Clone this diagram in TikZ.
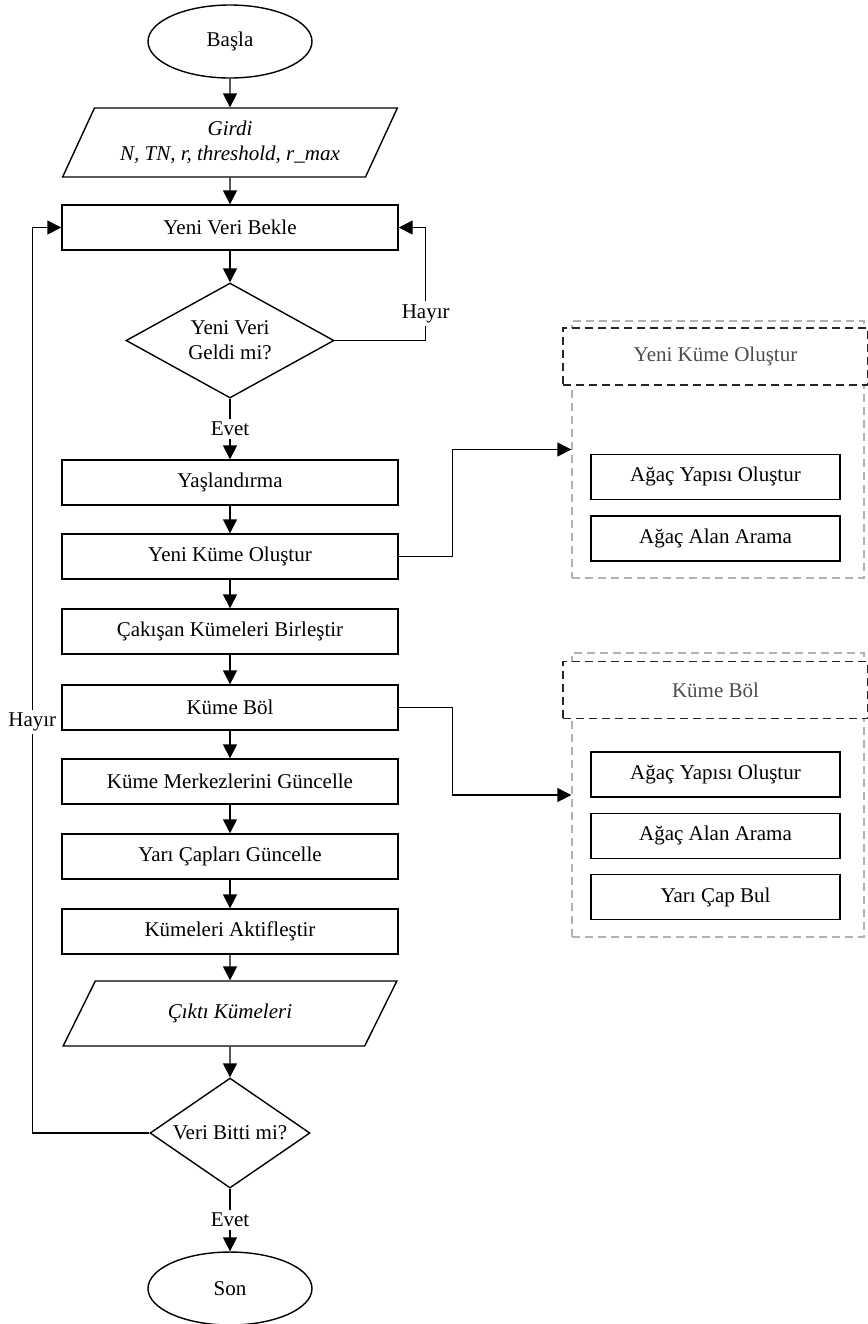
\documentclass[tikz,border=0pt]{standalone}
\usepackage{fontspec}
\setmainfont{Liberation Serif}
\usetikzlibrary{positioning, arrows.meta, shapes.geometric}

\begin{document}
\begin{tikzpicture}[node distance=15pt, >={Triangle[length=7pt,width=7pt]}, line width=0.7pt,
  font=\fontsize{10.5}{12.5}\selectfont,
  startstop/.style={draw, ellipse, minimum width=82pt, minimum height=36.5pt},
  io/.style={draw, trapezium, trapezium left angle=64, trapezium right angle=116, trapezium stretches=true,
    minimum width=167.5pt, align=center, font=\fontsize{10.5}{12.5}\selectfont\itshape},
  process/.style={draw, rectangle, minimum width=168pt, minimum height=22.5pt},
  decision/.style={draw, diamond, align=center, inner sep=0pt},
  groupbox/.style={draw=black!30, dash pattern=on 4pt off 2.5pt, minimum width=146pt},
  grouphead/.style={draw=black!85, dash pattern=on 4pt off 2.5pt, fill=white, text=black!70,
    minimum width=152.5pt, minimum height=28.5pt},
  subproc/.style={draw, rectangle, minimum width=124.5pt, minimum height=22.5pt},
  lbl/.style={fill=white, inner sep=1.5pt}]
\useasboundingbox (0,0) rectangle (434pt,-662pt);

% ana akis
\node[startstop] (start) at (115pt,-20.75pt) {Başla};
\node[io, minimum height=34.5pt, below=14.3pt of start] (in) {Girdi\\N, TN, r, threshold, r\_max};
\node[process, below=13.3pt of in] (wait) {Yeni Veri Bekle};
\node[decision, aspect=1.8, minimum width=104pt, minimum height=57.5pt, below=15.8pt of wait] (newq) {Yeni Veri\\Geldi mi?};
\node[process, below=30.3pt of newq] (age) {Yaşlandırma};
\node[process, below=13.8pt of age] (newcl) {Yeni Küme Oluştur};
\node[process, below=14.3pt of newcl] (merge) {Çakışan Kümeleri Birleştir};
\node[process, below=14.8pt of merge] (split) {Küme Böl};
\node[process, below=13.8pt of split] (upc) {Küme Merkezlerini Güncelle};
\node[process, below=14.3pt of upc] (upr) {Yarı Çapları Güncelle};
\node[process, below=14.3pt of upr] (act) {Kümeleri Aktifleştir};
\node[io, trapezium left angle=63, trapezium right angle=117, minimum height=32.5pt, below=12.8pt of act] (out) {Çıktı Kümeleri};
\node[decision, aspect=1.45, minimum width=80pt, minimum height=55pt, below=15.3pt of out] (endq) {Veri Bitti mi?};
\node[startstop, below=31.3pt of endq] (stop) {Son};

\coordinate[right=13.5pt of wait] (wr);
\coordinate[left=14.5pt of wait] (wl);

% alt surecler
\node[groupbox, minimum height=128.5pt] (grp1) at (359pt,-224.75pt) {};
\node[grouphead] (head1) at (357.75pt,-178.25pt) {Yeni Küme Oluştur};
\node[subproc, below=34pt of head1] (tree1) {Ağaç Yapısı Oluştur};
\node[subproc, below=7.5pt of tree1] (search1) {Ağaç Alan Arama};

\node[groupbox, minimum height=142pt] (grp2) at (359pt,-397.5pt) {};
\node[grouphead] (head2) at (357.75pt,-345pt) {Küme Böl};
\node[subproc, below=16pt of head2] (tree2) {Ağaç Yapısı Oluştur};
\node[subproc, below=7.5pt of tree2] (search2) {Ağaç Alan Arama};
\node[subproc, below=7.5pt of search2] (rad2) {Yarı Çap Bul};

\draw[->] (start) -- (in);
\draw[->] (in) -- (wait);
\draw[->] (wait) -- (newq);
\draw[->] (newq) -- node[lbl] {Evet} (age);
\draw[->] (age) -- (newcl);
\draw[->] (newcl) -- (merge);
\draw[->] (merge) -- (split);
\draw[->] (split) -- (upc);
\draw[->] (upc) -- (upr);
\draw[->] (upr) -- (act);
\draw[->] (act) -- (out);
\draw[->] (out) -- (endq);
\draw[->] (endq) -- node[lbl] {Evet} (stop);

\draw[->] (newq.east) -| node[lbl, pos=0.62] {Hayır} (wr) -- (wait.east);
\draw[->] (endq.west) -| node[lbl, pos=0.727] {Hayır} (wl) -- (wait.west);

\draw[->] (newcl.east) -- ++(27pt,0) |- (grp1.west);
\draw[->] (split.east) -- ++(27pt,0) |- (grp2.west);
\end{tikzpicture}
\end{document}
